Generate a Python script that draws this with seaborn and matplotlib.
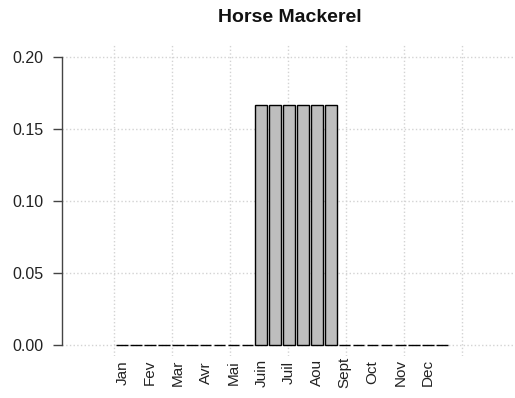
import numpy as np
import pandas as pd
import matplotlib
matplotlib.use("Agg")
import matplotlib.pyplot as plt
import seaborn as sns

# 24 half-month bars, every other one labelled with the month
months = ["Jan", "Fev", "Mar", "Avr", "Mai", "Juin", "Juil", "Aou", "Sept", "Oct", "Nov", "Dec"]
values = [0, 0, 0, 0, 0, 0, 0, 0, 0, 0,
          1/6, 1/6, 1/6, 1/6, 1/6, 1/6,
          0, 0, 0, 0, 0, 0, 0, 0]
yticks = [0.00, 0.05, 0.10, 0.15, 0.20]

df = pd.DataFrame({"bar": [str(i) for i in range(len(values))], "value": values})

sns.set_style("white")
plt.rcParams["font.family"] = ["Liberation Sans", "DejaVu Sans"]

fig = plt.figure(figsize=(5.15, 3.98), dpi=100)
ax = fig.add_axes([0.1204, 0.1043, 0.8796, 0.7814])

sns.barplot(data=df, x="bar", y="value", color="#BEBEBE", saturation=1,
            edgecolor="black", linewidth=1, width=1 / 1.2, ax=ax, zorder=3)

# R-style grid: vertical lines every 5 "R units" (bar pitch is 1.2 units)
for gx in np.arange(0, 31, 5):
    ax.axvline((gx - 0.7) / 1.2, color="#D3D3D3", linestyle=":", linewidth=1, zorder=1)
for gy in yticks:
    ax.axhline(gy, color="#D3D3D3", linestyle=":", linewidth=1, zorder=1)

ax.set_xlim((-4.5 - 0.7) / 1.2, (34.6 - 0.7) / 1.2)
ax.set_ylim(-0.008, 0.208)

ax.set_xticks(range(0, len(values), 2))
ax.set_xticklabels(months, rotation=90, fontsize=11, color="#222222", va="center")
ax.tick_params(axis="x", length=0, pad=11.5)

ax.set_yticks(yticks)
ax.set_yticklabels(["%.2f" % t for t in yticks], fontsize=11.5, color="#222222")
ax.tick_params(axis="y", length=6.5, width=1, color="#444444", left=True, pad=7)

for s in ["top", "right", "bottom"]:
    ax.spines[s].set_visible(False)
ax.spines["left"].set_bounds(0, 0.2)
ax.spines["left"].set_color("#444444")
ax.spines["left"].set_linewidth(1)

ax.set_xlabel("")
ax.set_ylabel("")
fig.text(0.563, 0.955, "Horse Mackerel", ha="center", va="center",
         fontsize=14, fontweight="bold", color="#111111")

fig.savefig("out.png", dpi=100)
